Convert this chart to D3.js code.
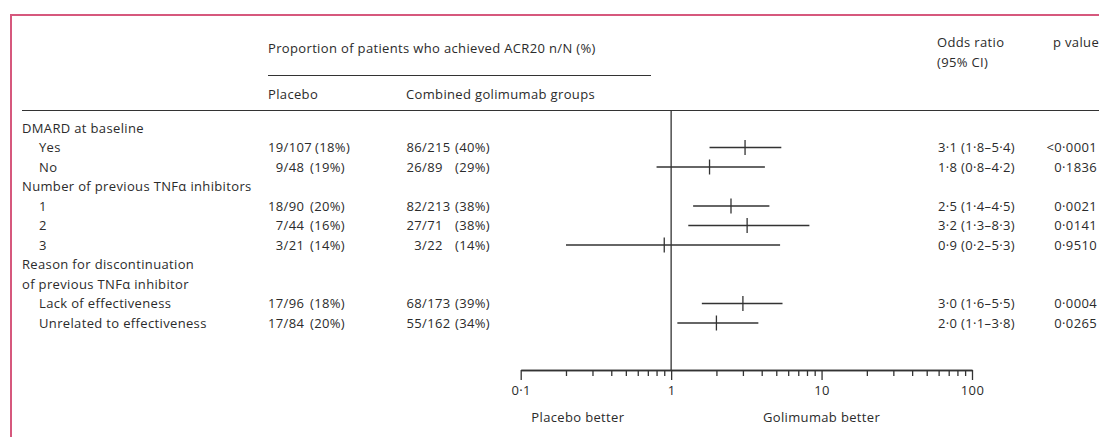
<!DOCTYPE html>
<html>
<head>
<meta charset="utf-8">
<script src="https://cdn.jsdelivr.net/npm/d3@7"></script>
<style>
  html, body { margin: 0; padding: 0; background: #fff; }
  svg text { font-family: "Open Sans", "Noto Sans", sans-serif; font-size: 13px; letter-spacing: 0.35px; fill: #2b2b2b; }
</style>
</head>
<body>
<svg id="chart" width="1099" height="437"></svg>
<script>
// Row labels (section headers and subgroup items), top to bottom
const rowLabels = [
  "DMARD at baseline", "Yes", "No",
  "Number of previous TNFα inhibitors", "1", "2", "3",
  "Reason for discontinuation", "of previous TNFα inhibitor",
  "Lack of effectiveness", "Unrelated to effectiveness"
];
const rowIsItem = [false, true, true, false, true, true, true, false, false, true, true];

// Subgroup results (one entry per item row)
const itemRows      = [1, 2, 4, 5, 6, 9, 10];
const placeboN      = [19, 9, 18, 7, 3, 17, 17];
const placeboTotal  = [107, 48, 90, 44, 21, 96, 84];
const placeboPct    = [18, 19, 20, 16, 14, 18, 20];
const golimumabN    = [86, 26, 82, 27, 3, 68, 55];
const golimumabTot  = [215, 89, 213, 71, 22, 173, 162];
const golimumabPct  = [40, 29, 38, 38, 14, 39, 34];
const oddsRatio     = [3.1, 1.8, 2.5, 3.2, 0.9, 3.0, 2.0];
const ciLow         = [1.8, 0.8, 1.4, 1.3, 0.2, 1.6, 1.1];
const ciHigh        = [5.4, 4.2, 4.5, 8.3, 5.3, 5.5, 3.8];
const pValues       = ["<0·0001", "0·1836", "0·0021", "0·0141", "0·9510", "0·0004", "0·0265"];

// Axis
const majorTicks = [0.1, 1, 10, 100];
const minorTicks = [0.2,0.3,0.4,0.5,0.6,0.7,0.8,0.9, 2,3,4,5,6,7,8,9, 20,30,40,50,60,70,80,90];
const sideLabels = ["Placebo better", "Golimumab better"];

const svg = d3.select("#chart");
const ink = "#333";

const x = d3.scaleLog().domain([0.1, 100]).range([520.7, 972]);
const y = d3.scaleLinear().domain([0, 10]).range([128, 323]);
const axisY = 370;
const base = 4.5; // baseline offset from row centre

const dot = s => s.replace(/\./g, "·");
const f1 = v => dot(d3.format(".1f")(v));

// Frame
svg.append("path")
  .attr("d", "M11,437 V15 H1099")
  .attr("fill", "none").attr("stroke", "#d6587d").attr("stroke-width", 2);

// Header
const hdr = svg.append("g");
hdr.append("text").attr("x", 268).attr("y", 52.5).text("Proportion of patients who achieved ACR20 n/N (%)");
hdr.append("line").attr("x1", 268).attr("x2", 651).attr("y1", 75.5).attr("y2", 75.5).attr("stroke", ink).attr("stroke-width", 1.2);
hdr.append("text").attr("x", 268).attr("y", 98.5).text("Placebo");
hdr.append("text").attr("x", 406).attr("y", 98.5).text("Combined golimumab groups");
hdr.append("text").attr("x", 937).attr("y", 46.5).text("Odds ratio");
hdr.append("text").attr("x", 937).attr("y", 66.5).text("(95% CI)");
hdr.append("text").attr("x", 1053).attr("y", 46.5).text("p value");
hdr.append("line").attr("x1", 22).attr("x2", 1099).attr("y1", 110.5).attr("y2", 110.5).attr("stroke", ink).attr("stroke-width", 1.2);

// Row labels
svg.append("g").selectAll("text").data(rowLabels).join("text")
  .attr("x", (d, i) => rowIsItem[i] ? 39 : 22)
  .attr("y", (d, i) => y(i) + base)
  .text(d => d);

// Measure a digit pair to align numerators on the slash
const probe = svg.append("text").text("00");
const twoDigits = probe.node().getComputedTextLength();
probe.remove();

function countColumn(colX, pctX, nums, tots, pcts) {
  const g = svg.append("g");
  const slashX = colX + twoDigits;
  itemRows.forEach((r, i) => {
    const yy = y(r) + base;
    g.append("text").attr("x", slashX).attr("y", yy).attr("text-anchor", "end").text(nums[i]);
    const rest = g.append("text").attr("x", slashX).attr("y", yy).text("/" + tots[i]);
    const end = slashX + rest.node().getComputedTextLength();
    g.append("text").attr("x", Math.max(pctX, end + 3)).attr("y", yy).text("(" + pcts[i] + "%)");
  });
}
countColumn(268, 310, placeboN, placeboTotal, placeboPct);
countColumn(406.5, 455, golimumabN, golimumabTot, golimumabPct);

// Odds ratio text and p values
const right = svg.append("g");
itemRows.forEach((r, i) => {
  right.append("text").attr("x", 938).attr("y", y(r) + base)
    .text(`${f1(oddsRatio[i])} (${f1(ciLow[i])}–${f1(ciHigh[i])})`);
  right.append("text").attr("x", 1097).attr("y", y(r) + base).attr("text-anchor", "end")
    .text(pValues[i]);
});

// Reference line at odds ratio 1
svg.append("line")
  .attr("x1", x(1)).attr("x2", x(1)).attr("y1", 110).attr("y2", axisY)
  .attr("stroke", ink).attr("stroke-width", 1.3);

// Confidence intervals and point estimates
const ci = svg.append("g").attr("stroke", ink).attr("stroke-width", 1.3);
ci.selectAll("line.ci").data(itemRows).join("line").attr("class", "ci")
  .attr("x1", (r, i) => x(ciLow[i])).attr("x2", (r, i) => x(ciHigh[i]))
  .attr("y1", r => y(r)).attr("y2", r => y(r));
ci.selectAll("line.est").data(itemRows).join("line").attr("class", "est")
  .attr("x1", (r, i) => x(oddsRatio[i])).attr("x2", (r, i) => x(oddsRatio[i]))
  .attr("y1", r => y(r) - 7.5).attr("y2", r => y(r) + 7.5);

// Log axis: minor ticks, then labelled major ticks
const minorAxis = svg.append("g").attr("transform", `translate(0,${axisY})`)
  .call(d3.axisBottom(x).tickValues(minorTicks).tickSize(6).tickSizeOuter(0).tickFormat(""));
const majorAxis = svg.append("g").attr("transform", `translate(0,${axisY})`)
  .call(d3.axisBottom(x).tickValues(majorTicks).tickSize(10).tickSizeOuter(0).tickPadding(6)
    .tickFormat(d => dot(String(d))));
[minorAxis, majorAxis].forEach(a => {
  a.selectAll("path, line").attr("stroke", ink).attr("stroke-width", 1.3);
  a.selectAll("text").attr("fill", "#2b2b2b")
    .style("font-family", "\"Open Sans\", sans-serif").style("font-size", "13px").style("letter-spacing", "0.35px");
});

// Direction labels
svg.append("text").attr("x", x(0.24)).attr("y", 421.5).attr("text-anchor", "middle").text(sideLabels[0]);
svg.append("text").attr("x", x(10)).attr("y", 421.5).attr("text-anchor", "middle").text(sideLabels[1]);
</script>
</body>
</html>
